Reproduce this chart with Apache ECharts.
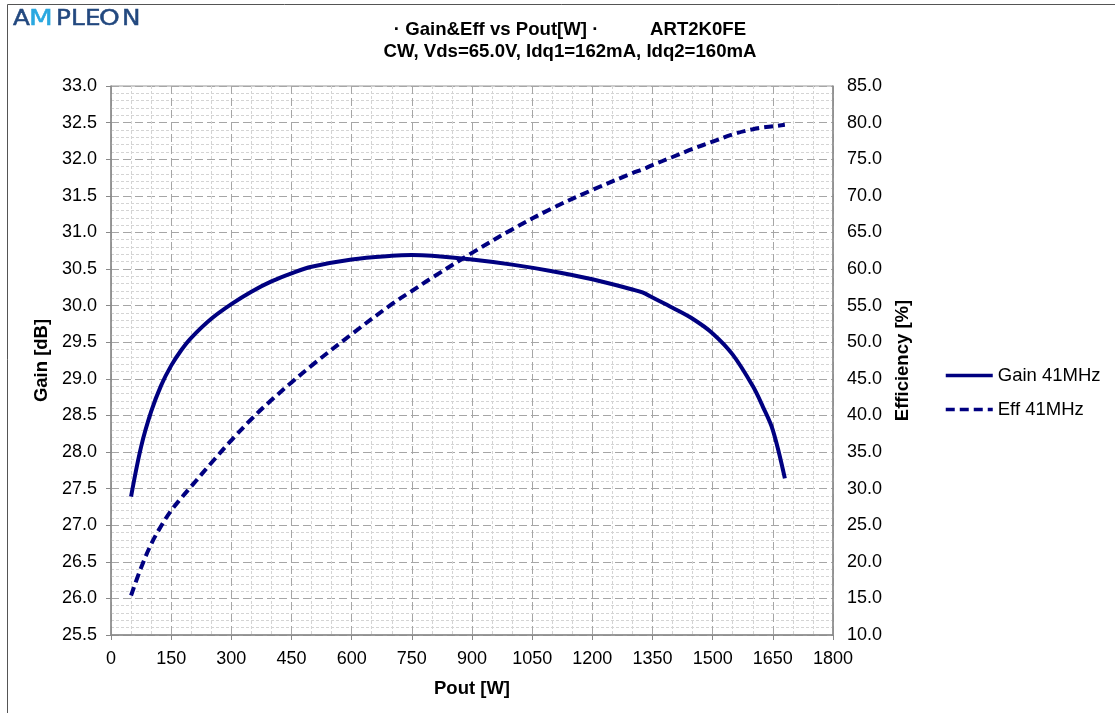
<!DOCTYPE html>
<html>
<head>
<meta charset="utf-8">
<script src="https://cdn.jsdelivr.net/npm/echarts@6/dist/echarts.min.js"></script>
<style>
html,body{margin:0;padding:0;background:#fff;}
#c{width:1115px;height:713px;}
</style>
</head>
<body>
<div id="c"></div>
<script>
const pout = [50, 75, 100, 125, 150, 175, 200, 250, 300, 350, 400, 450, 500, 600, 700, 750, 800, 900, 1000, 1100, 1200, 1300, 1325, 1350, 1400, 1450, 1500, 1550, 1600, 1625, 1650, 1680];
const gain41 = [27.39, 28.07, 28.55, 28.91, 29.18, 29.39, 29.56, 29.82, 30.02, 30.19, 30.33, 30.44, 30.53, 30.63, 30.68, 30.69, 30.68, 30.63, 30.56, 30.47, 30.36, 30.22, 30.18, 30.11, 29.97, 29.82, 29.62, 29.33, 28.9, 28.62, 28.3, 27.64];
const eff41 = [15.4, 19.2, 22.4, 24.9, 27.0, 28.7, 30.3, 33.5, 36.6, 39.5, 42.1, 44.5, 46.8, 51.1, 55.2, 57.0, 58.8, 62.2, 65.4, 68.3, 70.8, 73.1, 73.6, 74.2, 75.3, 76.4, 77.4, 78.4, 79.1, 79.35, 79.5, 79.7];
const seriesNames = ['Gain 41MHz', 'Eff 41MHz'];
const titleLines = ['· Gain&Eff vs Pout[W] ·          ART2K0FE', 'CW, Vds=65.0V, Idq1=162mA, Idq2=160mA'];
const logoLetters = ['A', 'M', 'P', 'L', 'E', 'O', 'N'];

const chart = echarts.init(document.getElementById('c'));
const FONT = 'Liberation Sans, Arial, sans-serif';
const navy = '#000080';
const logoX = [13, 29, 56, 71, 85, 99, 122];
const logoScale = [1.12, 1.25, 1.12, 1.12, 1.12, 1.2, 1.12];
const logoGraphics = logoLetters.map((ch, i) => ({
  type: 'text', x: logoX[i], y: 8, scaleX: logoScale[i],
  style: {
    text: ch, fontFamily: 'DejaVu Sans, sans-serif', fontSize: 22,
    fill: ch === 'M' ? '#2aa8e0' : '#22487f', stroke: ch === 'M' ? '#2aa8e0' : '#22487f', lineWidth: 0.5
  }
}));
chart.setOption({
  backgroundColor: '#fff',
  animation: false,
  textStyle: { fontFamily: FONT },
  title: {
    text: titleLines.join('\n'),
    left: 565, top: 14, textAlign: 'center',
    textStyle: { fontFamily: FONT, fontSize: 18.6, fontWeight: 'bold', color: '#000', lineHeight: 22 }
  },
  graphic: [
    { type: 'rect', shape: { x: 7.5, y: 4.5, width: 1120, height: 720 }, style: { fill: 'none', stroke: '#555', lineWidth: 1 }, silent: true }
  ].concat(logoGraphics),
  legend: {
    orient: 'vertical', left: 939, top: 361, itemWidth: 47, itemHeight: 14, itemGap: 15,
    itemStyle: { opacity: 0 },
    lineStyle: { width: 3.5 },
    textStyle: { fontFamily: FONT, fontSize: 18.5, color: '#000' },
    data: seriesNames
  },
  grid: { left: 111, right: 282, top: 86, bottom: 78, show: true, borderColor: '#999', borderWidth: 1 },
  xAxis: {
    type: 'value', min: 0, max: 1800, interval: 150,
    name: 'Pout [W]', nameLocation: 'middle', nameGap: 44,
    nameTextStyle: { fontFamily: FONT, fontSize: 18.5, fontWeight: 'bold', color: '#000' },
    axisLine: { show: true, lineStyle: { color: '#888', width: 1.5 } },
    axisTick: { show: true, inside: false, length: 5, lineStyle: { color: '#888' } },
    axisLabel: { fontFamily: FONT, fontSize: 18, color: '#000', margin: 15, formatter: v => String(v) },
    splitLine: { show: true, lineStyle: { color: '#a6a6a6', type: [8, 4], width: 1 } },
    minorTick: { show: false, splitNumber: 3 },
    minorSplitLine: { show: true, lineStyle: { color: '#d4d4d4', type: [3, 2], width: 1 } }
  },
  yAxis: [
    {
      type: 'value', min: 25.5, max: 33, interval: 0.5, position: 'left',
      name: 'Gain [dB]', nameLocation: 'middle', nameGap: 57, nameRotate: 90,
      nameTextStyle: { fontFamily: FONT, fontSize: 18.5, fontWeight: 'bold', color: '#000' },
      axisLine: { show: true, lineStyle: { color: '#888', width: 1.5 } },
      axisTick: { show: true, inside: false, length: 5, lineStyle: { color: '#888' } },
      axisLabel: { fontFamily: FONT, fontSize: 18, color: '#000', margin: 14, formatter: v => v.toFixed(1) },
      splitLine: { show: true, lineStyle: { color: '#a6a6a6', type: [8, 4], width: 1 } },
      minorTick: { show: false, splitNumber: 5 },
      minorSplitLine: { show: true, lineStyle: { color: '#d4d4d4', type: [3, 2], width: 1 } }
    },
    {
      type: 'value', min: 10, max: 85, interval: 5, position: 'right',
      name: 'Efficiency [%]', nameLocation: 'middle', nameGap: 59, nameRotate: 90,
      nameTextStyle: { fontFamily: FONT, fontSize: 18.5, fontWeight: 'bold', color: '#000' },
      axisLine: { show: true, lineStyle: { color: '#888', width: 1.5 } },
      axisTick: { show: false },
      axisLabel: { fontFamily: FONT, fontSize: 18, color: '#000', margin: 14, formatter: v => v.toFixed(1) },
      splitLine: { show: false }
    }
  ],
  series: [
    {
      name: seriesNames[0], type: 'line', yAxisIndex: 0, showSymbol: false, symbol: 'none', smooth: 0.35,
      data: pout.map((p, i) => [p, gain41[i]]),
      lineStyle: { color: navy, width: 4 }, itemStyle: { color: navy }
    },
    {
      name: seriesNames[1], type: 'line', yAxisIndex: 1, showSymbol: false, symbol: 'none', smooth: 0.35,
      data: pout.map((p, i) => [p, eff41[i]]),
      lineStyle: { color: navy, width: 4, type: [9, 5] }, itemStyle: { color: navy }
    }
  ]
});
</script>
</body>
</html>
